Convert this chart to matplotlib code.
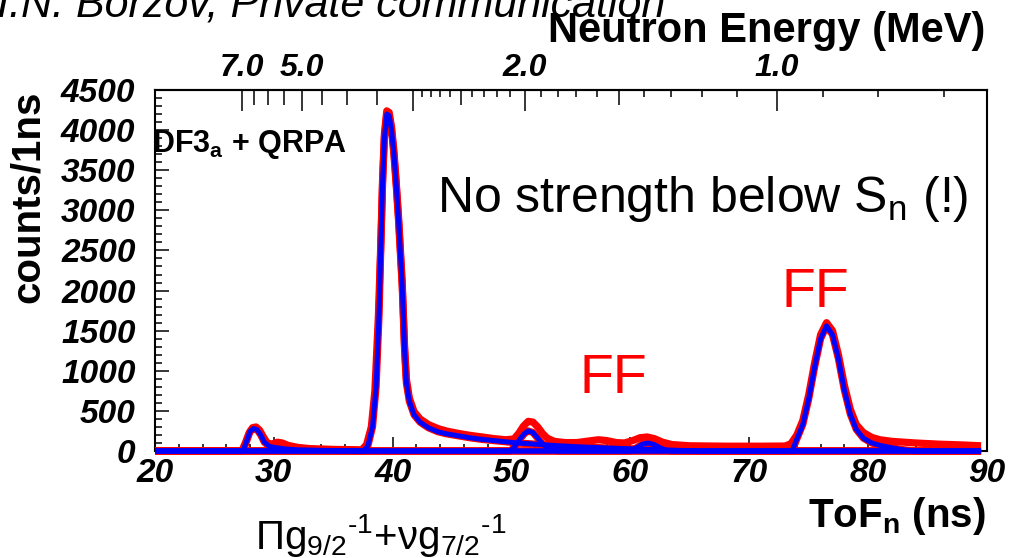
import numpy as np
import matplotlib
matplotlib.use("Agg")
import matplotlib.pyplot as plt
from matplotlib.ticker import MultipleLocator, FixedLocator, FuncFormatter, NullFormatter

# ---------------------------------------------------------------------------
# Neutron time-of-flight spectrum (counts per 1 ns bin), DF3a + QRPA
# ---------------------------------------------------------------------------

# total spectrum
total_tof = [20.0, 27.3, 27.6, 27.9, 28.2, 28.5, 28.8, 29.1, 29.4, 29.7, 30.0,
             30.3, 30.7, 31.2, 32.0, 33.0, 35.0, 37.4, 37.8, 38.2, 38.5, 38.8,
             39.0, 39.15, 39.3, 39.5, 39.7, 39.9, 40.1, 40.3, 40.5, 40.65,
             40.8, 40.9, 41.0, 41.15, 41.4, 41.8, 42.3, 43.0, 43.8, 44.5,
             45.5, 46.5, 47.5, 48.5, 49.5, 50.2, 50.6, 51.0, 51.4, 51.8, 52.2,
             52.6, 53.0, 53.6, 54.5, 55.5, 56.5, 57.3, 58.0, 58.8, 59.5, 60.2,
             60.8, 61.4, 62.0, 62.7, 63.5, 65.0, 68.0, 71.0, 73.0, 73.5, 74.0,
             74.5, 75.0, 75.5, 76.0, 76.5, 77.0, 77.5, 78.0, 78.5, 79.0, 79.6,
             80.3, 81.0, 82.0, 84.0, 86.0, 88.0, 89.5]
total_counts = [0, 0, 100, 220, 290, 300, 260, 180, 110, 80, 95,
                110, 100, 70, 45, 30, 20, 15, 80, 300, 750, 1700,
                2600, 3400, 3950, 4240, 4220, 4040, 3740, 3340, 2900, 2500,
                2100, 1700, 1300, 900, 660, 490, 400, 330, 280, 250,
                220, 195, 175, 155, 140, 150, 220, 310, 370, 360, 300,
                220, 160, 120, 105, 105, 125, 140, 130, 105, 100, 130,
                165, 175, 155, 110, 80, 65, 60, 60, 62, 90, 200,
                380, 700, 1100, 1450, 1600, 1500, 1200, 820, 520, 330, 230,
                170, 140, 120, 100, 85, 75, 65]

# main Gamow-Teller component (incl. the high-energy bump and tail)
main_tof = [20.0, 27.4, 27.7, 28.0, 28.3, 28.6, 28.9, 29.2, 29.6, 30.0, 30.5,
            31.0, 32.0, 34.0, 36.0, 37.5, 37.9, 38.3, 38.6, 38.85, 39.0,
            39.15, 39.3, 39.5, 39.7, 39.9, 40.1, 40.3, 40.5, 40.65, 40.8,
            40.9, 41.0, 41.15, 41.4, 41.8, 42.3, 43.0, 43.8, 44.5, 45.5,
            46.5, 47.5, 48.5, 49.5, 50.5, 52.0, 54.0, 56.0, 58.0, 60.0, 62.0,
            64.0, 66.0, 89.5]
main_counts = [0, 0, 120, 245, 280, 265, 200, 110, 60, 45, 35,
               25, 15, 8, 5, 0, 60, 300, 800, 1700, 2550,
               3350, 3900, 4200, 4180, 4000, 3700, 3300, 2850, 2450, 2050,
               1650, 1250, 850, 620, 450, 360, 290, 240, 215, 190,
               165, 145, 130, 115, 100, 85, 65, 50, 38, 28, 18,
               8, 0, 0]

# first-forbidden component near 51 ns
ff51_tof = [20.0, 49.9, 50.3, 50.7, 51.1, 51.4, 51.8, 52.2, 52.6, 53.0, 53.5,
            54.0, 89.5]
ff51_counts = [0, 0, 60, 150, 220, 250, 230, 160, 90, 40, 10, 0, 0]

# first-forbidden component near 61 ns
ff61_tof = [20.0, 60.0, 60.5, 61.0, 61.5, 62.0, 62.5, 63.0, 63.5, 89.5]
ff61_counts = [0, 0, 40, 85, 100, 80, 40, 10, 0, 0]

# first-forbidden component near 76 ns
ff76_tof = [20.0, 73.6, 74.0, 74.5, 75.0, 75.5, 76.0, 76.5, 77.0, 77.5, 78.0,
            78.5, 79.0, 79.6, 80.3, 81.0, 82.0, 83.0, 84.0, 89.5]
ff76_counts = [0, 0, 150, 330, 650, 1050, 1400, 1560, 1450, 1150, 760,
               460, 270, 160, 100, 70, 40, 15, 0, 0]

# neutron energy tick values (MeV) on the top axis
energy_labeled = [7.0, 5.0, 2.0, 1.0]
energy_long = [7.0, 5.0, 3.0, 2.0, 1.0]
energy_mid = [6.5, 6.0, 5.5, 4.5, 4.0, 3.5, 2.5, 1.5]
energy_short = [2.9, 2.8, 2.7, 2.6, 2.4, 2.3, 2.2, 2.1,
                1.9, 1.8, 1.7, 1.6, 1.4, 1.3, 1.2, 1.1, 0.9, 0.8, 0.7]

# kinematics: E = 1/2 m (L/t)^2, L = 1 m
FLIGHT_PATH_M = 1.0
NEUTRON_MASS_MEV = 939.565
C_M_PER_NS = 0.299792458
K_TOF = 0.5 * NEUTRON_MASS_MEV * (FLIGHT_PATH_M / C_M_PER_NS) ** 2


def tof_to_mev(t):
    t = np.clip(np.asarray(t, dtype=float), 1e-3, None)
    return K_TOF / t ** 2


def mev_to_tof(e):
    e = np.clip(np.asarray(e, dtype=float), 1e-6, None)
    return np.sqrt(K_TOF / e)


# ---------------------------------------------------------------------------
plt.rcParams['font.family'] = ['Liberation Sans', 'DejaVu Sans']
plt.rcParams['mathtext.fontset'] = 'custom'
plt.rcParams['mathtext.rm'] = 'Liberation Sans'
plt.rcParams['mathtext.it'] = 'Liberation Sans:italic'
plt.rcParams['mathtext.bf'] = 'Liberation Sans:bold'

W, H = 1009, 558
fig = plt.figure(figsize=(W / 100, H / 100), dpi=100)


def fpos(x, y):
    return x / W, 1 - y / H


ax = fig.add_axes([155 / W, 1 - 451 / H, 832 / W, 361 / H])
ax.set_xlim(20, 90)
ax.set_ylim(0, 4500)

RED, BLUE = '#ff0000', '#0000ff'
components = [(main_tof, main_counts), (ff51_tof, ff51_counts),
              (ff61_tof, ff61_counts), (ff76_tof, ff76_counts)]

ax.plot(total_tof, total_counts, color=RED, lw=5.2, zorder=3,
        solid_joinstyle='round', solid_capstyle='butt', clip_on=False)
for t, c in components:
    ax.plot(t, c, color=RED, lw=5.2, zorder=3, solid_joinstyle='round',
            solid_capstyle='butt', clip_on=False)
for t, c in components:
    ax.plot(t, c, color=BLUE, lw=3.6, zorder=4, solid_joinstyle='round',
            solid_capstyle='butt', clip_on=False)

for s in ax.spines.values():
    s.set_linewidth(1.5)
    s.set_color('black')

ax.xaxis.set_major_locator(MultipleLocator(10))
ax.xaxis.set_minor_locator(MultipleLocator(2))
ax.yaxis.set_major_locator(MultipleLocator(500))
ax.yaxis.set_minor_locator(MultipleLocator(100))
ax.tick_params(axis='x', which='both', direction='in', top=False, bottom=True)
ax.tick_params(axis='y', which='both', direction='in', left=True, right=False)
ax.tick_params(which='major', length=10, width=1.1, labelsize=24)
ax.tick_params(which='minor', length=5, width=1.1)
ax.tick_params(axis='x', which='major', pad=5)
ax.tick_params(axis='y', which='major', pad=14)

# top energy axis: three tick lengths
sec = ax.secondary_xaxis('top', functions=(tof_to_mev, mev_to_tof))
sec.xaxis.set_major_locator(FixedLocator(energy_long))
sec.xaxis.set_major_formatter(FuncFormatter(
    lambda v, p: f'{v:.1f}' if any(abs(v - e) < 1e-6 for e in energy_labeled) else ''))
sec.xaxis.set_minor_locator(FixedLocator(energy_short))
sec.xaxis.set_minor_formatter(NullFormatter())
sec.tick_params(which='major', direction='in', length=15, width=1.1,
                labelsize=23, pad=5)
sec.tick_params(which='minor', direction='in', length=5, width=1.1)
sec.spines['top'].set_linewidth(1.5)

sec_mid = ax.secondary_xaxis('top', functions=(tof_to_mev, mev_to_tof))
sec_mid.xaxis.set_major_locator(FixedLocator(energy_mid))
sec_mid.xaxis.set_major_formatter(NullFormatter())
sec_mid.tick_params(which='major', direction='in', length=11, width=1.1)
sec_mid.xaxis.set_minor_locator(FixedLocator([]))
sec_mid.spines['top'].set_visible(False)

# axis titles
fig.text(*fpos(985, 42), 'Neutron Energy (MeV)', ha='right', va='baseline',
         fontsize=30, fontweight='bold')
fig.text(*fpos(28, 197), 'counts/1ns', rotation=90, ha='center', va='center',
         fontsize=29, fontweight='bold')
fig.text(*fpos(986, 527), r'ToF$_\mathbf{n}$ (ns)', ha='right', va='baseline',
         fontsize=29, fontweight='bold')

# annotations
fig.text(*fpos(-3, 16), 'I.N. Borzov, Private communication', ha='left',
         va='baseline', fontsize=31, fontstyle='italic')
fig.text(*fpos(152, 152), r'DF3$_\mathbf{a}$ + QRPA', ha='left', va='baseline',
         fontsize=22, fontweight='bold', zorder=6)
fig.text(*fpos(437, 212), r'No strength below S$_\mathrm{n}$ (!)', ha='left',
         va='baseline', fontsize=36)
fig.text(*fpos(580, 393), 'FF', ha='left', va='baseline', color=RED,
         fontsize=40)
fig.text(*fpos(782, 307), 'FF', ha='left', va='baseline', color=RED,
         fontsize=40)
fig.text(*fpos(255, 549),
         r'Πg$_\mathrm{9/2}{}^\mathrm{\text{-1}}$+νg$_\mathrm{7/2}{}^\mathrm{\text{-1}}$',
         ha='left', va='baseline', fontsize=29)

# bold italic tick labels on all three scales
fig.canvas.draw()
for lbl in ax.get_xticklabels() + ax.get_yticklabels() + sec.xaxis.get_ticklabels():
    lbl.set_fontweight('bold')
    lbl.set_fontstyle('italic')

fig.savefig('out.png', dpi=100)
